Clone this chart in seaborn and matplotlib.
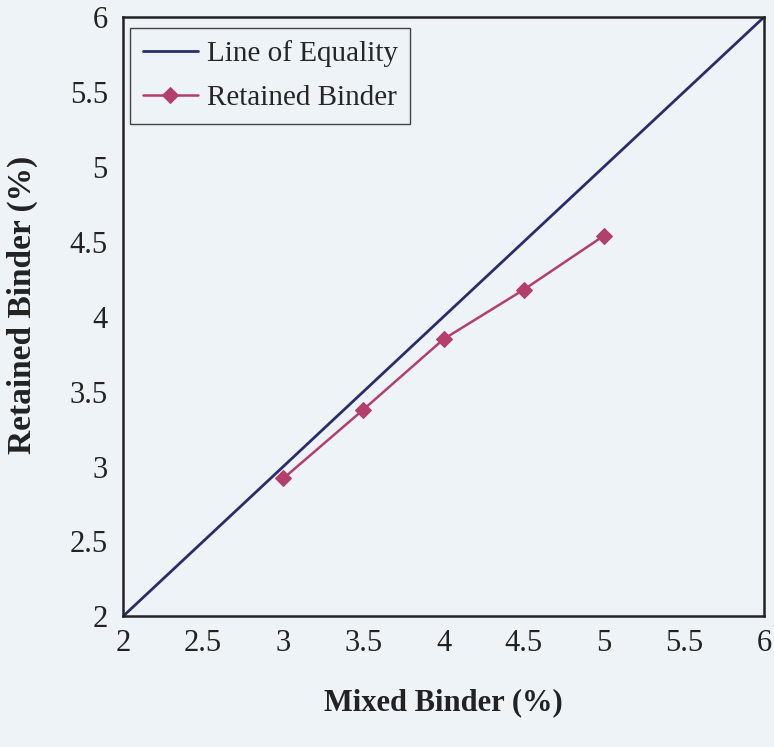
import matplotlib
matplotlib.use("Agg")
import matplotlib.pyplot as plt
import seaborn as sns
import pandas as pd

equality_x = [2, 6]
equality_y = [2, 6]
mixed_binder = [3.0, 3.5, 4.0, 4.5, 5.0]
retained_binder = [2.92, 3.38, 3.85, 4.18, 4.54]
ticks = [2, 2.5, 3, 3.5, 4, 4.5, 5, 5.5, 6]
tick_labels = ["2", "2.5", "3", "3.5", "4", "4.5", "5", "5.5", "6"]

sns.set_style("white")
plt.rcParams['font.family'] = ['Liberation Serif', 'DejaVu Serif']

bg = '#eef3f8'
fig = plt.figure(figsize=(7.74, 7.47), dpi=100, facecolor=bg)
ax = fig.add_axes([0.159, 0.175, 0.828, 0.802], facecolor=bg)

df_eq = pd.DataFrame({"x": equality_x, "y": equality_y})
df_rb = pd.DataFrame({"x": mixed_binder, "y": retained_binder})

sns.lineplot(data=df_eq, x="x", y="y", ax=ax, color='#2a2d68', linewidth=2.0,
             label="Line of Equality")
sns.lineplot(data=df_rb, x="x", y="y", ax=ax, color='#b23f6c', linewidth=1.8,
             marker='D', markersize=8.5, markeredgecolor='#b23f6c',
             label="Retained Binder")

ax.set_xlim(2, 6)
ax.set_ylim(2, 6)
ax.set_xticks(ticks)
ax.set_xticklabels(tick_labels)
ax.set_yticks(ticks)
ax.set_yticklabels(tick_labels)
ax.tick_params(axis='both', direction='out', length=7, width=1.0, colors='#222222',
               labelsize=22, pad=4)
ax.tick_params(axis='x', pad=2)
for s in ax.spines.values():
    s.set_color('#222222')
    s.set_linewidth(1.8)

ax.set_xlabel("Mixed Binder (%)", fontsize=22, fontweight='bold', labelpad=22, color='#222222')
ax.set_ylabel("Retained Binder (%)", fontsize=24, fontweight='bold', labelpad=21, color='#222222')
ax.yaxis.set_label_coords(-0.133, 0.52)

leg = ax.legend(loc='upper left', bbox_to_anchor=(0.011, 0.982), fontsize=21,
                frameon=True, fancybox=False, framealpha=1, facecolor=bg,
                edgecolor='#444444', handlelength=1.9, handletextpad=0.3,
                borderpad=0.43, labelspacing=0.6, borderaxespad=0)
leg.get_frame().set_linewidth(1.0)

fig.savefig("out.png", dpi=100, facecolor=bg)
